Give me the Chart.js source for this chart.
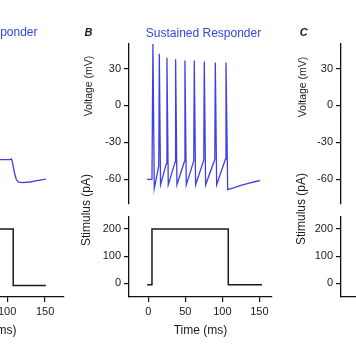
<!DOCTYPE html>
<html>
<head>
<meta charset="utf-8">
<script src="https://cdn.jsdelivr.net/npm/chart.js@4.4.1/dist/chart.umd.min.js"></script>
<style>
  html, body { margin:0; padding:0; width:356px; height:364px; overflow:hidden; background:#fff; }
  body { position:relative; font-family:"Liberation Sans", Arial, Helvetica, sans-serif; }
  canvas { position:absolute; }
  .lbl { position:absolute; white-space:nowrap; color:#1a1a1a; line-height:1; }
  .rot { transform:translate(-50%,-50%) rotate(-90deg); }
  .ctr { transform:translate(-50%,-50%); }
</style>
</head>
<body>
<canvas id="aV" width="220" height="185"></canvas>
<canvas id="aS" width="220" height="155"></canvas>
<canvas id="bV" width="220" height="185"></canvas>
<canvas id="bS" width="220" height="155"></canvas>
<canvas id="cV" width="220" height="185"></canvas>
<canvas id="cS" width="220" height="155"></canvas>

<div class="lbl" style="right:318.5px; top:26px; font-size:12px; color:#3347dd;">Transient Responder</div>
<div class="lbl ctr" style="left:88.5px; top:32px; font-size:11px; font-weight:bold; font-style:italic;">B</div>
<div class="lbl ctr" style="left:203.5px; top:33px; font-size:12px; color:#3347dd;">Sustained Responder</div>
<div class="lbl rot" style="left:87.5px; top:86px; font-size:10.5px;">Voltage (mV)</div>
<div class="lbl rot" style="left:86px; top:210px; font-size:12px;">Stimulus (pA)</div>
<div class="lbl ctr" style="left:303.7px; top:32px; font-size:11px; font-weight:bold; font-style:italic;">C</div>
<div class="lbl rot" style="left:301.7px; top:86.5px; font-size:10.5px;">Voltage (mV)</div>
<div class="lbl rot" style="left:300.5px; top:209px; font-size:12px;">Stimulus (pA)</div>

<script>
// ---- tick labels ----
const voltageTicks = [-60, -30, 0, 30];
const stimulusTicks = [0, 100, 200];
const timeTicks = [0, 50, 100, 150];

// ---- Panel A (Transient Responder) – visible part ----
const aTime    = [85, 104, 105.7, 107, 109.5, 112, 114.6, 120, 130, 141, 151];
const aVoltage = [-44, -44, -43.5, -46, -54.3, -60, -62.2, -62.7, -62.2, -60.8, -59.8];
const aStimTime = [85, 108, 108, 151];
const aStim     = [200, 200, -8, -8];

// ---- Panel B (Sustained Responder) ----
const bTime = [-1.5, 5, 6.3, 8.1, 14.2, 14.9, 16.6, 24.5, 25.2, 27, 36.2, 36.9, 38.7,
  48.8, 49.5, 51.3, 61.4, 62.1, 63.9, 74.9, 75.6, 77.4, 89.8, 90.5, 92.3,
  104.2, 104.9, 107.2, 115, 125, 135, 145, 151];
const bVoltage = [-60, -60, 50, -67.5, -49, 42, -64.5, -47, 38.7, -64.5, -46, 37.5, -64.5,
  -45.5, 36.5, -64.5, -45, 36.5, -64.5, -44.5, 35.7, -64.5, -44, 34.9, -64.5,
  -43.5, 34.9, -68.4, -67, -65, -63.3, -61.8, -61];
const bStimTime = [-1.5, 5, 5, 108, 108, 153.5];
const bStim     = [-5, -5, 200, 200, -5, -5];

const FONT = '"Liberation Sans", Arial, Helvetica, sans-serif';
Chart.defaults.font.family = FONT;
Chart.defaults.color = '#1a1a1a';

function pts(xs, ys) { return xs.map((x, i) => ({x: x, y: ys[i]})); }

function yAxis(min, max, ticks) {
  return {
    type: 'linear', min: min, max: max,
    afterFit: s => { s.width = 50; },
    afterBuildTicks: s => { s.ticks = ticks.map(v => ({value: v})); },
    ticks: { font: {size: 11}, padding: 3, color: '#1a1a1a' },
    grid: { display: true, drawOnChartArea: false, drawTicks: true, tickLength: 5, color: '#111', lineWidth: 1.2 },
    border: { display: true, color: '#111', width: 1.3 }
  };
}
function xAxis(min, max, show) {
  return {
    type: 'linear', min: min, max: max, display: show,
    afterFit: s => { s.height = show ? 63.1 : 0; },
    afterBuildTicks: s => { s.ticks = timeTicks.map(v => ({value: v})); },
    ticks: { font: {size: 11}, padding: 3, color: '#1a1a1a', maxRotation: 0 },
    grid: { display: true, drawOnChartArea: false, drawTicks: true, tickLength: 5, color: '#111', lineWidth: 1.2 },
    border: { display: true, color: '#111', width: 1.3 },
    title: { display: show, text: 'Time (ms)', font: {size: 12}, color: '#1a1a1a', padding: {top: 0, bottom: 21.8} }
  };
}

function makeChart(id, left, top, xs, ys, color, width, xmin, xmax, ymin, ymax, yticks, showX, pad) {
  const c = document.getElementById(id);
  c.style.left = left + 'px';
  c.style.top = top + 'px';
  return new Chart(c, {
    type: 'line',
    data: { datasets: xs ? [{
      data: pts(xs, ys), borderColor: color, borderWidth: width,
      pointRadius: 0, tension: 0, fill: false, clip: false
    }] : [] },
    options: {
      responsive: false, animation: false, devicePixelRatio: 1,
      layout: { padding: pad },
      plugins: { legend: {display: false}, tooltip: {enabled: false}, title: {display: false} },
      scales: { x: xAxis(xmin, xmax, showX), y: yAxis(ymin, ymax, yticks) }
    }
  });
}

const BLUE = '#4040e6';
const BLACK = '#1a1a1a';
// voltage panels: canvas top 30, chart area 43.9 .. 203.9
const vPad = (r) => ({left: 19, right: r, top: 13.9, bottom: 11.1});
// stimulus panels: canvas top 205, chart area top 216.8, x-axis at 296.9
const sPad = (r) => ({left: 19, right: r, top: 11.8, bottom: 0});

// Panel A (offset -213)
makeChart('aV', -153, 30, aTime, aVoltage, BLUE, 1.3, -20, 174, -80, 50, voltageTicks, false, vPad(3.7));
makeChart('aS', -153, 205, aStimTime, aStim, BLACK, 1.5, -20, 174, -50, 245, stimulusTicks, true, sPad(3.7));
// Panel B
makeChart('bV', 60, 30, bTime, bVoltage, BLUE, 1.3, -26, 167, -80, 50, voltageTicks, false, vPad(8));
makeChart('bS', 60, 205, bStimTime, bStim, BLACK, 1.5, -26, 167, -50, 245, stimulusTicks, true, sPad(8));
// Panel C (axes only in view)
makeChart('cV', 271.7, 30, null, null, BLUE, 1.3, -26, 167, -80, 50, voltageTicks, false, vPad(8));
makeChart('cS', 271.7, 205, null, null, BLACK, 1.5, -26, 167, -50, 245, stimulusTicks, true, sPad(8));
</script>
</body>
</html>
